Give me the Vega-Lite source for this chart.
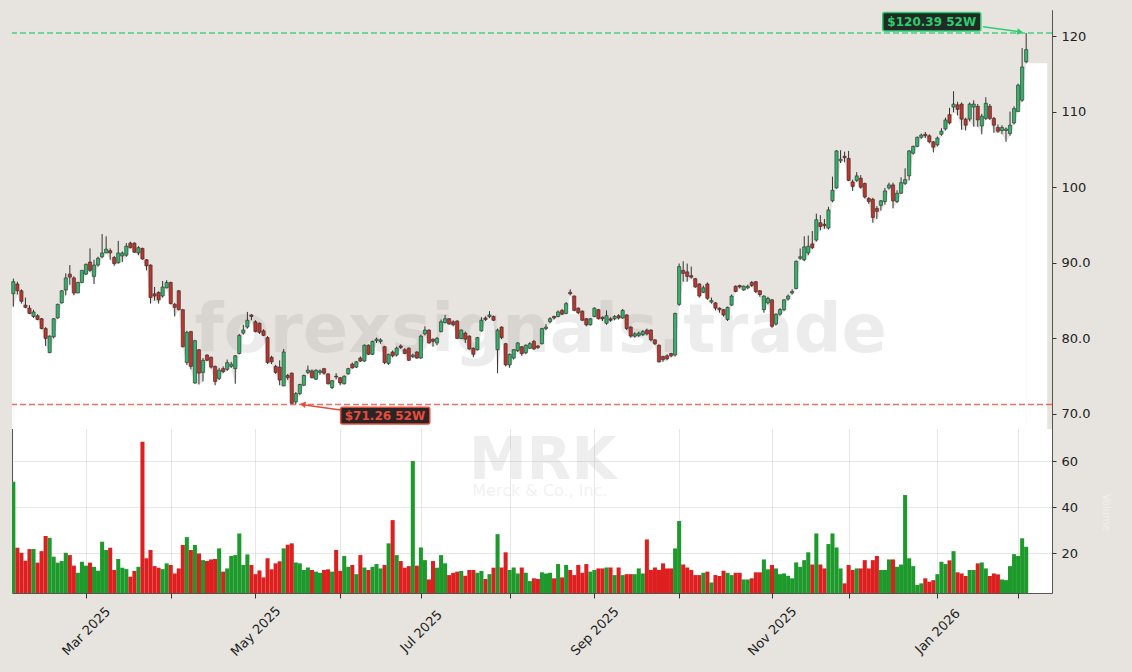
{
"$schema":"https://vega.github.io/schema/vega-lite/v6.json",
"width":1040,"height":583,
"autosize":{"type":"none"},
"padding":{"left":12,"top":10,"right":80,"bottom":79},
"background":"#e7e4df",
"config":{
 "view":{"stroke":"#555555","strokeWidth":1,"fill":"#ffffff"},
 "font":"DejaVu Sans",
 "scale":{"continuousPadding":0},
 "axis":{"labelFont":"DejaVu Sans","labelFontSize":13,"labelColor":"#222222","tickColor":"#333333","tickWidth":1,"domain":false,"gridColor":"#a8a8a8","gridOpacity":0.35,"gridWidth":0.8,"zindex":1,"titleFont":"DejaVu Sans","titleFontSize":10,"titleFontWeight":"normal","titleColor":"#f0eeea"}
},
"datasets":{
"k":[
{"t":0,"o":85.9,"h":87.9,"l":84.2,"c":87.5,"v":51.0},
{"t":1,"o":87.2,"h":87.5,"l":85.8,"c":86.3,"v":22.3},
{"t":2,"o":86.3,"h":86.5,"l":84.6,"c":84.9,"v":20.1},
{"t":3,"o":84.4,"h":85.4,"l":84.0,"c":84.1,"v":16.6},
{"t":4,"o":84.0,"h":84.4,"l":83.2,"c":83.3,"v":21.7},
{"t":5,"o":82.9,"h":83.8,"l":82.7,"c":83.5,"v":21.7},
{"t":6,"o":83.0,"h":83.2,"l":82.4,"c":82.5,"v":15.8},
{"t":7,"o":82.6,"h":82.7,"l":81.2,"c":81.3,"v":20.8},
{"t":8,"o":81.3,"h":81.5,"l":79.0,"c":80.0,"v":27.4},
{"t":9,"o":78.1,"h":80.4,"l":78.1,"c":80.3,"v":26.6},
{"t":10,"o":80.2,"h":82.7,"l":80.0,"c":82.6,"v":18.4},
{"t":11,"o":82.7,"h":84.6,"l":82.6,"c":84.5,"v":15.8},
{"t":12,"o":84.7,"h":86.4,"l":84.6,"c":86.3,"v":16.5},
{"t":13,"o":86.4,"h":88.6,"l":85.7,"c":88.0,"v":20.1},
{"t":14,"o":88.5,"h":89.7,"l":87.1,"c":88.1,"v":19.1},
{"t":15,"o":88.0,"h":88.2,"l":85.7,"c":86.0,"v":14.5},
{"t":16,"o":86.0,"h":87.5,"l":86.0,"c":87.4,"v":11.4},
{"t":17,"o":87.4,"h":89.0,"l":87.3,"c":89.0,"v":16.2},
{"t":18,"o":88.5,"h":89.9,"l":88.4,"c":89.8,"v":14.5},
{"t":19,"o":90.1,"h":91.9,"l":88.8,"c":89.0,"v":15.8},
{"t":20,"o":88.2,"h":90.4,"l":87.2,"c":89.7,"v":14.0},
{"t":21,"o":89.7,"h":90.8,"l":89.5,"c":90.6,"v":12.3},
{"t":22,"o":90.8,"h":93.8,"l":90.6,"c":91.3,"v":24.9},
{"t":23,"o":91.3,"h":93.5,"l":91.3,"c":91.8,"v":21.3},
{"t":24,"o":91.6,"h":91.9,"l":90.4,"c":91.3,"v":22.3},
{"t":25,"o":90.7,"h":90.9,"l":89.6,"c":89.9,"v":12.6},
{"t":26,"o":90.0,"h":92.9,"l":89.9,"c":91.3,"v":17.4},
{"t":27,"o":90.9,"h":91.5,"l":90.1,"c":91.3,"v":13.6},
{"t":28,"o":91.0,"h":92.6,"l":90.8,"c":92.2,"v":13.0},
{"t":29,"o":92.6,"h":92.8,"l":91.9,"c":92.0,"v":9.7},
{"t":30,"o":92.6,"h":92.7,"l":91.3,"c":91.4,"v":12.2},
{"t":31,"o":91.3,"h":92.2,"l":91.0,"c":92.0,"v":14.0},
{"t":32,"o":91.9,"h":92.0,"l":90.4,"c":90.5,"v":68.4},
{"t":33,"o":90.4,"h":90.5,"l":89.0,"c":89.6,"v":17.7},
{"t":34,"o":89.7,"h":89.8,"l":84.6,"c":85.4,"v":21.3},
{"t":35,"o":85.9,"h":86.8,"l":85.0,"c":85.6,"v":14.3},
{"t":36,"o":86.1,"h":86.2,"l":84.6,"c":85.1,"v":13.6},
{"t":37,"o":85.6,"h":87.6,"l":85.4,"c":86.8,"v":13.0},
{"t":38,"o":86.7,"h":87.7,"l":86.6,"c":87.4,"v":15.5},
{"t":39,"o":87.4,"h":87.5,"l":84.5,"c":84.6,"v":14.8},
{"t":40,"o":84.5,"h":84.7,"l":82.9,"c":84.1,"v":11.1},
{"t":41,"o":86.3,"h":86.4,"l":83.7,"c":83.8,"v":13.3},
{"t":42,"o":83.8,"h":83.9,"l":78.8,"c":78.9,"v":23.5},
{"t":43,"o":76.8,"h":81.0,"l":76.5,"c":80.8,"v":26.9},
{"t":44,"o":80.9,"h":81.0,"l":75.9,"c":76.3,"v":21.3},
{"t":45,"o":74.1,"h":79.8,"l":74.0,"c":79.7,"v":23.5},
{"t":46,"o":78.5,"h":78.6,"l":73.9,"c":75.4,"v":19.8},
{"t":47,"o":75.5,"h":77.4,"l":74.3,"c":77.1,"v":16.9},
{"t":48,"o":77.8,"h":77.9,"l":77.0,"c":77.1,"v":16.5},
{"t":49,"o":77.5,"h":77.6,"l":76.0,"c":76.2,"v":17.2},
{"t":50,"o":76.3,"h":76.4,"l":73.8,"c":74.3,"v":17.4},
{"t":51,"o":74.7,"h":76.1,"l":74.5,"c":75.8,"v":22.0},
{"t":52,"o":76.0,"h":76.3,"l":75.4,"c":75.6,"v":11.9},
{"t":53,"o":75.9,"h":77.2,"l":75.7,"c":76.8,"v":13.3},
{"t":54,"o":76.3,"h":76.9,"l":76.1,"c":76.6,"v":18.7},
{"t":55,"o":76.0,"h":77.8,"l":74.0,"c":77.7,"v":19.1},
{"t":56,"o":78.0,"h":80.6,"l":77.9,"c":80.4,"v":28.5},
{"t":57,"o":80.7,"h":81.8,"l":80.5,"c":81.1,"v":14.8},
{"t":58,"o":81.5,"h":83.5,"l":81.3,"c":82.4,"v":19.4},
{"t":59,"o":83.1,"h":83.2,"l":82.4,"c":82.9,"v":14.8},
{"t":60,"o":82.2,"h":82.4,"l":80.8,"c":80.9,"v":10.8},
{"t":61,"o":82.0,"h":82.1,"l":80.6,"c":80.8,"v":12.4},
{"t":62,"o":81.0,"h":81.2,"l":80.3,"c":80.4,"v":9.4},
{"t":63,"o":80.1,"h":80.3,"l":76.6,"c":76.8,"v":17.7},
{"t":64,"o":77.5,"h":77.7,"l":76.6,"c":76.9,"v":12.9},
{"t":65,"o":76.3,"h":76.5,"l":75.3,"c":75.5,"v":15.5},
{"t":66,"o":76.2,"h":77.1,"l":73.8,"c":74.5,"v":16.4},
{"t":67,"o":73.7,"h":78.6,"l":73.7,"c":78.2,"v":22.0},
{"t":68,"o":75.1,"h":75.3,"l":74.5,"c":74.8,"v":23.6},
{"t":69,"o":75.4,"h":75.5,"l":71.3,"c":71.4,"v":24.2},
{"t":70,"o":71.6,"h":72.9,"l":71.26,"c":72.7,"v":15.9},
{"t":71,"o":72.7,"h":74.0,"l":72.5,"c":73.9,"v":15.5},
{"t":72,"o":73.8,"h":75.2,"l":73.7,"c":75.1,"v":12.6},
{"t":73,"o":75.5,"h":76.4,"l":75.3,"c":75.8,"v":13.7},
{"t":74,"o":75.7,"h":75.9,"l":74.7,"c":74.8,"v":12.6},
{"t":75,"o":74.6,"h":75.9,"l":74.5,"c":75.8,"v":11.9},
{"t":76,"o":75.5,"h":75.9,"l":75.2,"c":75.7,"v":11.4},
{"t":77,"o":76.0,"h":76.1,"l":75.2,"c":75.4,"v":12.6},
{"t":78,"o":75.3,"h":75.4,"l":73.9,"c":74.0,"v":12.9},
{"t":79,"o":73.5,"h":74.5,"l":73.3,"c":74.4,"v":11.9},
{"t":80,"o":75.0,"h":75.4,"l":74.6,"c":74.9,"v":21.3},
{"t":81,"o":74.8,"h":74.9,"l":73.8,"c":74.1,"v":12.2},
{"t":82,"o":74.0,"h":75.1,"l":73.9,"c":75.0,"v":18.7},
{"t":83,"o":75.3,"h":76.1,"l":75.2,"c":76.0,"v":14.0},
{"t":84,"o":76.6,"h":76.8,"l":76.0,"c":76.1,"v":14.8},
{"t":85,"o":76.2,"h":77.0,"l":76.1,"c":76.9,"v":10.8},
{"t":86,"o":77.4,"h":77.6,"l":76.9,"c":77.0,"v":19.1},
{"t":87,"o":77.0,"h":79.2,"l":76.9,"c":79.1,"v":13.7},
{"t":88,"o":79.1,"h":79.2,"l":77.8,"c":77.9,"v":12.6},
{"t":89,"o":77.9,"h":79.7,"l":77.8,"c":79.6,"v":14.0},
{"t":90,"o":79.7,"h":80.1,"l":79.4,"c":79.9,"v":15.2},
{"t":91,"o":79.6,"h":80.0,"l":79.3,"c":79.8,"v":13.3},
{"t":92,"o":78.9,"h":79.0,"l":76.6,"c":76.8,"v":14.8},
{"t":93,"o":76.7,"h":78.0,"l":76.5,"c":77.9,"v":24.2},
{"t":94,"o":78.2,"h":78.4,"l":77.5,"c":77.7,"v":34.3},
{"t":95,"o":77.8,"h":78.9,"l":77.6,"c":78.7,"v":19.1},
{"t":96,"o":79.0,"h":79.2,"l":78.6,"c":78.8,"v":16.5},
{"t":97,"o":78.5,"h":78.7,"l":77.9,"c":78.0,"v":13.6},
{"t":98,"o":78.7,"h":78.8,"l":77.0,"c":77.1,"v":14.3},
{"t":99,"o":77.6,"h":78.0,"l":77.4,"c":77.8,"v":60.0},
{"t":100,"o":78.2,"h":78.3,"l":77.3,"c":77.4,"v":14.5},
{"t":101,"o":77.4,"h":80.5,"l":77.3,"c":80.3,"v":22.4},
{"t":102,"o":80.6,"h":81.6,"l":80.4,"c":81.1,"v":16.9},
{"t":103,"o":81.1,"h":81.2,"l":79.3,"c":79.4,"v":8.5},
{"t":104,"o":79.9,"h":80.0,"l":78.9,"c":79.6,"v":16.5},
{"t":105,"o":79.4,"h":80.2,"l":79.1,"c":80.0,"v":13.6},
{"t":106,"o":80.9,"h":82.5,"l":80.8,"c":82.2,"v":19.1},
{"t":107,"o":82.1,"h":83.1,"l":82.0,"c":82.6,"v":15.5},
{"t":108,"o":82.6,"h":82.7,"l":81.8,"c":81.9,"v":10.4},
{"t":109,"o":82.2,"h":82.4,"l":81.6,"c":81.8,"v":11.4},
{"t":110,"o":82.3,"h":82.4,"l":79.9,"c":80.0,"v":11.9},
{"t":111,"o":80.0,"h":81.2,"l":79.9,"c":81.1,"v":12.2},
{"t":112,"o":80.7,"h":80.9,"l":79.4,"c":79.9,"v":10.1},
{"t":113,"o":80.3,"h":80.4,"l":78.5,"c":78.6,"v":12.6},
{"t":114,"o":78.7,"h":78.8,"l":77.5,"c":77.9,"v":12.6},
{"t":115,"o":78.5,"h":80.2,"l":78.4,"c":80.1,"v":11.4},
{"t":116,"o":81.0,"h":82.8,"l":80.9,"c":82.4,"v":12.2},
{"t":117,"o":82.7,"h":82.9,"l":82.3,"c":82.5,"v":8.7},
{"t":118,"o":82.9,"h":83.6,"l":82.7,"c":83.1,"v":10.8},
{"t":119,"o":82.9,"h":83.0,"l":82.3,"c":82.4,"v":13.6},
{"t":120,"o":78.5,"h":81.3,"l":75.4,"c":81.1,"v":28.2},
{"t":121,"o":81.5,"h":81.6,"l":79.9,"c":80.1,"v":13.7},
{"t":122,"o":79.3,"h":79.4,"l":76.3,"c":76.5,"v":20.3},
{"t":123,"o":76.5,"h":78.0,"l":76.1,"c":77.9,"v":12.6},
{"t":124,"o":77.4,"h":78.6,"l":77.2,"c":78.5,"v":13.7},
{"t":125,"o":78.4,"h":79.5,"l":78.2,"c":79.4,"v":11.1},
{"t":126,"o":78.9,"h":79.0,"l":77.7,"c":78.0,"v":13.7},
{"t":127,"o":78.1,"h":79.2,"l":77.9,"c":79.1,"v":11.4},
{"t":128,"o":78.7,"h":79.5,"l":78.6,"c":79.3,"v":7.8},
{"t":129,"o":79.6,"h":79.8,"l":78.5,"c":78.6,"v":9.0},
{"t":130,"o":79.0,"h":79.1,"l":78.6,"c":78.8,"v":8.7},
{"t":131,"o":79.3,"h":81.4,"l":79.2,"c":81.3,"v":11.6},
{"t":132,"o":81.3,"h":81.9,"l":81.1,"c":81.5,"v":11.1},
{"t":133,"o":82.2,"h":82.8,"l":82.0,"c":82.6,"v":11.4},
{"t":134,"o":82.9,"h":83.0,"l":82.5,"c":82.7,"v":9.0},
{"t":135,"o":82.9,"h":83.7,"l":82.8,"c":83.5,"v":15.2},
{"t":136,"o":83.7,"h":83.9,"l":83.1,"c":83.2,"v":9.4},
{"t":137,"o":83.3,"h":84.8,"l":83.2,"c":84.6,"v":14.8},
{"t":138,"o":86.1,"h":86.5,"l":85.7,"c":85.9,"v":12.6},
{"t":139,"o":85.6,"h":85.7,"l":83.6,"c":83.7,"v":10.4},
{"t":140,"o":84.0,"h":84.1,"l":83.2,"c":83.4,"v":14.8},
{"t":141,"o":83.6,"h":83.7,"l":82.3,"c":82.4,"v":11.4},
{"t":142,"o":82.6,"h":82.7,"l":81.6,"c":81.8,"v":15.2},
{"t":143,"o":81.8,"h":82.7,"l":81.7,"c":82.6,"v":11.9},
{"t":144,"o":82.9,"h":84.1,"l":82.8,"c":84.0,"v":12.6},
{"t":145,"o":83.8,"h":83.9,"l":82.5,"c":82.6,"v":13.3},
{"t":146,"o":82.8,"h":82.9,"l":82.3,"c":82.6,"v":13.3},
{"t":147,"o":82.0,"h":83.7,"l":81.8,"c":83.0,"v":13.7},
{"t":148,"o":82.6,"h":82.8,"l":82.2,"c":82.4,"v":13.7},
{"t":149,"o":82.6,"h":83.1,"l":82.4,"c":82.9,"v":10.4},
{"t":150,"o":83.0,"h":83.2,"l":82.5,"c":82.7,"v":13.7},
{"t":151,"o":82.7,"h":83.9,"l":82.6,"c":83.7,"v":10.4},
{"t":152,"o":83.1,"h":83.2,"l":81.1,"c":81.3,"v":10.8},
{"t":153,"o":81.5,"h":81.6,"l":80.1,"c":80.3,"v":10.8},
{"t":154,"o":80.3,"h":80.8,"l":80.1,"c":80.6,"v":10.8},
{"t":155,"o":80.4,"h":80.9,"l":80.2,"c":80.7,"v":13.3},
{"t":156,"o":80.5,"h":81.1,"l":80.3,"c":80.9,"v":11.1},
{"t":157,"o":81.1,"h":81.3,"l":80.4,"c":80.6,"v":25.9},
{"t":158,"o":81.1,"h":81.2,"l":79.6,"c":79.8,"v":12.6},
{"t":159,"o":79.8,"h":79.9,"l":79.1,"c":79.3,"v":13.7},
{"t":160,"o":79.1,"h":79.2,"l":76.8,"c":76.9,"v":12.6},
{"t":161,"o":77.6,"h":77.7,"l":76.9,"c":77.2,"v":15.5},
{"t":162,"o":77.7,"h":77.9,"l":77.1,"c":77.3,"v":13.3},
{"t":163,"o":78.0,"h":78.1,"l":77.5,"c":77.7,"v":13.3},
{"t":164,"o":77.8,"h":83.4,"l":77.6,"c":83.3,"v":22.0},
{"t":165,"o":84.5,"h":89.9,"l":84.3,"c":89.5,"v":33.9},
{"t":166,"o":89.0,"h":90.2,"l":87.5,"c":88.6,"v":15.0},
{"t":167,"o":88.8,"h":89.9,"l":87.5,"c":88.2,"v":13.7},
{"t":168,"o":88.3,"h":89.5,"l":87.9,"c":88.1,"v":12.6},
{"t":169,"o":87.9,"h":88.0,"l":86.7,"c":86.8,"v":10.4},
{"t":170,"o":87.2,"h":87.3,"l":85.4,"c":85.6,"v":10.4},
{"t":171,"o":86.1,"h":87.0,"l":86.0,"c":86.7,"v":11.4},
{"t":172,"o":87.2,"h":87.4,"l":85.1,"c":85.3,"v":11.9},
{"t":173,"o":84.8,"h":85.4,"l":84.6,"c":85.0,"v":7.2},
{"t":174,"o":84.7,"h":84.8,"l":83.7,"c":84.0,"v":10.4},
{"t":175,"o":84.0,"h":84.1,"l":83.4,"c":83.8,"v":10.0},
{"t":176,"o":83.8,"h":83.9,"l":82.9,"c":83.1,"v":12.3},
{"t":177,"o":82.5,"h":84.2,"l":82.3,"c":84.1,"v":11.4},
{"t":178,"o":84.4,"h":85.8,"l":84.3,"c":85.6,"v":10.4},
{"t":179,"o":86.9,"h":87.0,"l":86.1,"c":86.2,"v":11.4},
{"t":180,"o":87.0,"h":87.1,"l":86.6,"c":86.8,"v":11.4},
{"t":181,"o":86.4,"h":87.0,"l":86.3,"c":86.9,"v":8.5},
{"t":182,"o":86.7,"h":87.1,"l":86.5,"c":86.9,"v":8.5},
{"t":183,"o":87.4,"h":87.6,"l":86.8,"c":87.0,"v":9.0},
{"t":184,"o":87.5,"h":87.6,"l":86.0,"c":86.2,"v":11.6},
{"t":185,"o":86.3,"h":86.4,"l":85.5,"c":85.8,"v":11.6},
{"t":186,"o":83.8,"h":85.7,"l":83.4,"c":85.6,"v":17.2},
{"t":187,"o":84.7,"h":85.5,"l":84.5,"c":85.3,"v":12.9},
{"t":188,"o":85.1,"h":85.2,"l":81.4,"c":81.6,"v":14.8},
{"t":189,"o":81.9,"h":83.3,"l":81.7,"c":83.2,"v":13.3},
{"t":190,"o":83.2,"h":84.0,"l":83.0,"c":83.8,"v":10.8},
{"t":191,"o":83.8,"h":85.2,"l":83.6,"c":85.1,"v":11.1},
{"t":192,"o":85.2,"h":85.8,"l":85.0,"c":85.6,"v":10.1},
{"t":193,"o":86.0,"h":86.5,"l":85.8,"c":86.2,"v":9.0},
{"t":194,"o":86.6,"h":90.3,"l":86.5,"c":90.2,"v":15.9},
{"t":195,"o":90.6,"h":91.9,"l":90.4,"c":90.8,"v":14.0},
{"t":196,"o":90.4,"h":93.5,"l":90.2,"c":92.1,"v":16.9},
{"t":197,"o":91.3,"h":93.6,"l":91.0,"c":92.2,"v":20.3},
{"t":198,"o":92.5,"h":94.2,"l":91.8,"c":92.0,"v":15.0},
{"t":199,"o":93.0,"h":96.5,"l":92.8,"c":95.7,"v":28.5},
{"t":200,"o":95.3,"h":96.3,"l":94.3,"c":94.8,"v":15.0},
{"t":201,"o":95.1,"h":95.8,"l":94.5,"c":94.9,"v":13.3},
{"t":202,"o":94.6,"h":97.4,"l":94.4,"c":97.0,"v":23.9},
{"t":203,"o":98.2,"h":101.4,"l":98.0,"c":99.6,"v":28.5},
{"t":204,"o":99.9,"h":104.9,"l":99.8,"c":104.8,"v":22.4},
{"t":205,"o":103.5,"h":104.9,"l":103.2,"c":103.7,"v":13.3},
{"t":206,"o":104.1,"h":104.7,"l":103.3,"c":103.9,"v":6.8},
{"t":207,"o":103.8,"h":104.8,"l":100.8,"c":100.9,"v":14.8},
{"t":208,"o":100.7,"h":101.0,"l":99.5,"c":100.1,"v":12.6},
{"t":209,"o":100.9,"h":102.0,"l":100.7,"c":101.5,"v":13.3},
{"t":210,"o":101.2,"h":101.6,"l":99.8,"c":100.0,"v":13.3},
{"t":211,"o":100.5,"h":100.6,"l":98.5,"c":98.7,"v":16.9},
{"t":212,"o":98.5,"h":98.7,"l":97.8,"c":98.1,"v":13.3},
{"t":213,"o":98.4,"h":98.6,"l":95.3,"c":96.0,"v":16.9},
{"t":214,"o":97.2,"h":97.5,"l":95.8,"c":96.8,"v":18.7},
{"t":215,"o":97.6,"h":98.3,"l":96.9,"c":98.2,"v":12.6},
{"t":216,"o":98.1,"h":99.9,"l":97.7,"c":99.5,"v":12.6},
{"t":217,"o":99.9,"h":100.6,"l":99.7,"c":100.3,"v":17.2},
{"t":218,"o":100.3,"h":100.6,"l":97.2,"c":98.2,"v":17.2},
{"t":219,"o":98.1,"h":99.6,"l":97.9,"c":99.2,"v":14.0},
{"t":220,"o":99.2,"h":101.3,"l":99.1,"c":100.6,"v":15.0},
{"t":221,"o":100.5,"h":102.5,"l":100.3,"c":101.0,"v":45.2},
{"t":222,"o":101.5,"h":104.9,"l":100.9,"c":104.8,"v":17.7},
{"t":223,"o":104.5,"h":105.5,"l":104.3,"c":105.4,"v":14.3},
{"t":224,"o":105.4,"h":106.7,"l":105.3,"c":106.6,"v":6.1},
{"t":225,"o":106.6,"h":107.1,"l":106.4,"c":106.9,"v":6.8},
{"t":226,"o":107.0,"h":107.3,"l":106.5,"c":106.8,"v":9.0},
{"t":227,"o":106.8,"h":107.0,"l":105.8,"c":106.0,"v":7.5},
{"t":228,"o":106.0,"h":106.1,"l":104.6,"c":105.3,"v":8.2},
{"t":229,"o":105.6,"h":106.7,"l":105.4,"c":106.5,"v":10.8},
{"t":230,"o":107.0,"h":107.8,"l":106.8,"c":107.4,"v":16.2},
{"t":231,"o":107.7,"h":109.2,"l":107.5,"c":108.9,"v":15.2},
{"t":232,"o":109.6,"h":110.5,"l":108.3,"c":108.5,"v":16.8},
{"t":233,"o":110.6,"h":112.7,"l":109.9,"c":111.0,"v":20.8},
{"t":234,"o":110.9,"h":111.3,"l":109.5,"c":110.3,"v":11.6},
{"t":235,"o":111.0,"h":111.2,"l":107.6,"c":109.0,"v":11.1},
{"t":236,"o":109.0,"h":109.2,"l":107.5,"c":108.2,"v":10.0},
{"t":237,"o":109.0,"h":111.2,"l":108.7,"c":111.0,"v":12.6},
{"t":238,"o":110.6,"h":111.5,"l":108.0,"c":111.0,"v":12.6},
{"t":239,"o":110.7,"h":111.0,"l":108.0,"c":108.9,"v":15.5},
{"t":240,"o":108.1,"h":109.7,"l":107.0,"c":109.4,"v":15.9},
{"t":241,"o":109.1,"h":111.9,"l":108.9,"c":111.1,"v":13.3},
{"t":242,"o":110.7,"h":111.0,"l":108.9,"c":109.1,"v":10.0},
{"t":243,"o":109.1,"h":109.3,"l":107.2,"c":108.2,"v":11.1},
{"t":244,"o":107.9,"h":108.3,"l":107.2,"c":107.4,"v":10.7},
{"t":245,"o":107.5,"h":108.2,"l":107.0,"c":107.9,"v":8.5},
{"t":246,"o":107.5,"h":107.9,"l":106.0,"c":107.7,"v":8.2},
{"t":247,"o":107.1,"h":110.0,"l":106.8,"c":108.2,"v":14.3},
{"t":248,"o":108.5,"h":110.7,"l":108.3,"c":110.4,"v":19.5},
{"t":249,"o":110.0,"h":113.7,"l":110.0,"c":113.5,"v":18.7},
{"t":250,"o":111.5,"h":118.4,"l":111.3,"c":115.9,"v":26.4},
{"t":251,"o":116.6,"h":120.39,"l":116.4,"c":118.2,"v":22.7}
],
"edge":[
{"s":"a","t":-0.33,"l":84.2},{"s":"a","t":0,"l":84.2},
{"s":"b","t":251,"l":116.4},{"s":"b","t":256.2,"l":116.4}
]
},
"layer":[
{
 "data":{"name":"k"},
 "layer":[
  {"data":{"values":[{}]},"mark":{"type":"rect","fill":"#e7e4df"},
   "encoding":{"y":{"datum":123.44},"y2":{"datum":68.0}}},
  {"mark":{"type":"area","fill":"#ffffff","opacity":1,"fillOpacity":1,"interpolate":"linear"},
   "encoding":{
    "x":{"field":"t","type":"quantitative","title":null,
     "scale":{"domain":[-0.33,257.4],"nice":false,"zero":false,"padding":0},
     "axis":{"orient":"bottom","values":[18,39,60,81,101,123,144,165,188,207,229,249],
      "labelExpr":"datum.value==18?'Mar 2025':datum.value==60?'May 2025':datum.value==101?'Jul 2025':datum.value==144?'Sep 2025':datum.value==188?'Nov 2025':datum.value==229?'Jan 2026':''",
      "labelAngle":-45,"labelAlign":"center","labelBaseline":"middle","labelDx":-3,
      "tickSize":5,"labelPadding":33,"grid":true,"labelOverlap":false,"labelFlush":false,"labelBound":false}},
    "y":{"field":"l","type":"quantitative","title":"Price",
     "scale":{"domain":[46.32,123.44],"nice":false,"zero":false,"padding":0},
     "axis":{"orient":"right","values":[70,80,90,100,110,120],
      "labelExpr":"datum.value>=100?format(datum.value,'d'):format(datum.value,'.1f')",
      "tickSize":4,"labelPadding":5,"grid":true,"titleAngle":90,"titleX":53,"titleY":211,"titleAlign":"center","titleBaseline":"middle"}},
    "y2":{"datum":68.0}}},
  {"data":{"name":"edge"},"mark":{"type":"area","fill":"#ffffff","opacity":1,"fillOpacity":1},
   "encoding":{"x":{"field":"t","type":"quantitative","title":null},
    "y":{"field":"l","type":"quantitative","title":null},"y2":{"datum":68.0},
    "detail":{"field":"s"}}},
  {"data":{"values":[{}]},"mark":{"type":"text","text":"forexsignals.trade","font":"DejaVu Sans","fontWeight":"bold","fontSize":67,"align":"center","baseline":"alphabetic","color":"#888888","opacity":0.15},
   "encoding":{"x":{"datum":130.7},"y":{"datum":78.2}}},
  {"data":{"values":[{}]},"mark":{"type":"text","text":"MRK","font":"DejaVu Sans","fontWeight":"bold","fontSize":58,"align":"center","baseline":"alphabetic","color":"#999999","opacity":0.16},
   "encoding":{"x":{"datum":131.2},"y":{"datum":61.4}}},
  {"data":{"values":[{}]},"mark":{"type":"text","text":"Merck & Co., Inc.","font":"DejaVu Sans","fontSize":16,"align":"center","baseline":"alphabetic","color":"#999999","opacity":0.13},
   "encoding":{"x":{"datum":130.5},"y":{"datum":59.2}}},
  {"mark":{"type":"rule","color":"#333333","strokeWidth":1},
   "encoding":{"x":{"field":"t","type":"quantitative","title":null},
    "y":{"field":"l","type":"quantitative","title":null},"y2":{"field":"h"}}},
  {"mark":{"type":"bar","size":3.2,"orient":"vertical","stroke":"#2a2a2a","strokeWidth":0.6},
   "encoding":{"x":{"field":"t","type":"quantitative","title":null},
    "y":{"field":"o","type":"quantitative","title":null},"y2":{"field":"c"},
    "fill":{"condition":{"test":"datum.c >= datum.o","value":"#33b36b"},"value":"#c0342c"}}},
  {"data":{"values":[{}]},"mark":{"type":"rule","color":"#2ecc71","strokeWidth":1.5,"strokeDash":[6,3],"opacity":0.85},
   "encoding":{"y":{"datum":120.39}}},
  {"data":{"values":[{}]},"mark":{"type":"rule","color":"#e74c3c","strokeWidth":1.5,"strokeDash":[6,3],"opacity":0.8},
   "encoding":{"y":{"datum":71.26}}},
  {"data":{"values":[{}]},"mark":{"type":"rule","color":"#2ecc71","strokeWidth":1.5},
   "encoding":{"x":{"datum":240.3},"y":{"datum":121.23},"x2":{"datum":249.3},"y2":{"datum":120.56}}},
  {"data":{"values":[{}]},"mark":{"type":"point","shape":"triangle-right","angle":8,"size":45,"filled":true,"color":"#2ecc71","opacity":1},
   "encoding":{"x":{"datum":249.5},"y":{"datum":120.54}}},
  {"data":{"values":[{}]},"mark":{"type":"rect","fill":"#1f2b24","stroke":"#2ecc71","strokeWidth":1.5,"cornerRadius":2},
   "encoding":{"x":{"datum":215.45},"x2":{"datum":239.76},"y":{"datum":123.11},"y2":{"datum":120.66}}},
  {"data":{"values":[{}]},"mark":{"type":"text","text":"$120.39 52W","font":"DejaVu Sans","fontWeight":"bold","fontSize":12,"color":"#2ecc71","align":"center","baseline":"middle"},
   "encoding":{"x":{"datum":227.6},"y":{"datum":121.89}}},
  {"data":{"values":[{}]},"mark":{"type":"rule","color":"#e74c3c","strokeWidth":1.5},
   "encoding":{"x":{"datum":81.1},"y":{"datum":70.53},"x2":{"datum":72.2},"y2":{"datum":71.2}}},
  {"data":{"values":[{}]},"mark":{"type":"point","shape":"triangle-left","angle":8,"size":45,"filled":true,"color":"#e74c3c","opacity":1},
   "encoding":{"x":{"datum":71.7},"y":{"datum":71.27}}},
  {"data":{"values":[{}]},"mark":{"type":"rect","fill":"#2b2424","stroke":"#e74c3c","strokeWidth":1.5,"cornerRadius":2},
   "encoding":{"x":{"datum":81.1},"x2":{"datum":103.2},"y":{"datum":70.89},"y2":{"datum":68.68}}},
  {"data":{"values":[{}]},"mark":{"type":"text","text":"$71.26 52W","font":"DejaVu Sans","fontWeight":"bold","fontSize":12,"color":"#e74c3c","align":"center","baseline":"middle"},
   "encoding":{"x":{"datum":92.1},"y":{"datum":69.78}}}
 ]
},
{
 "data":{"name":"k"},
 "mark":{"type":"bar","size":4.05,"orient":"vertical","clip":true},
 "encoding":{
  "x":{"field":"t","type":"quantitative","title":null},
  "y":{"field":"v","type":"quantitative","title":"Volume",
   "scale":{"domain":[2.61,256.1],"nice":false,"zero":false,"padding":0},
   "axis":{"orient":"right","values":[20,40,60],"format":"d","tickSize":4,"labelPadding":5,"grid":true,"titleAngle":90,"titleX":53,"titleY":502,"titleAlign":"center","titleBaseline":"middle"}},
  "color":{"condition":{"test":"datum.c >= datum.o","value":"#1e9a2c"},"value":"#de1f1f"}
 }
}
],
"resolve":{"scale":{"y":"independent"}}
}
